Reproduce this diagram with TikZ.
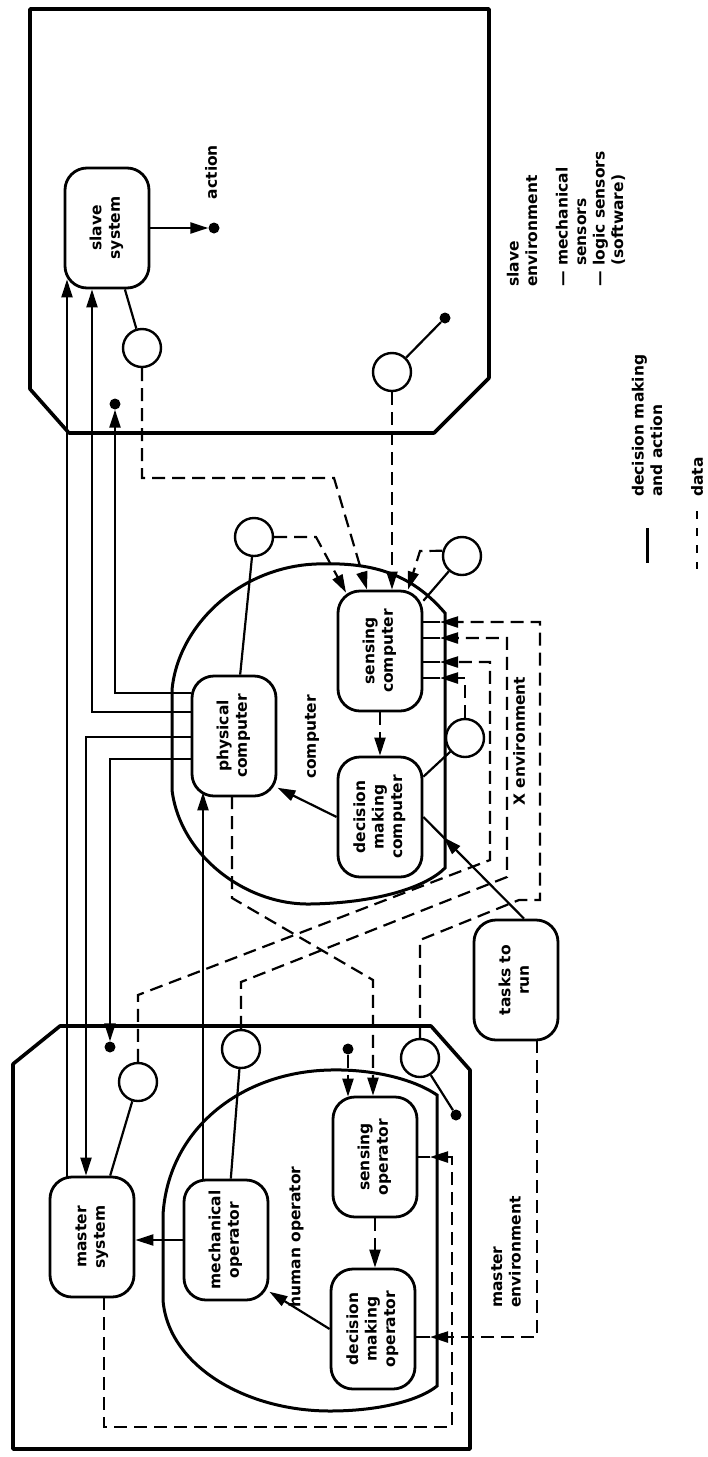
\documentclass[tikz,border=0pt]{standalone}
\usepackage{fontspec}
\setmainfont{DejaVu Sans}
\usetikzlibrary{arrows.meta,calc,decorations.markings,backgrounds}

\newcommand{\vtext}[1]{\rotatebox{90}{\begin{tabular}{@{}c@{}}#1\end{tabular}}}

\tikzset{
  unit/.style={draw, fill=white, line width=2.8pt, rectangle, rounded corners=22pt,
    minimum width=84pt, minimum height=120pt, inner sep=0pt},
  sensor/.style={draw, fill=white, circle, line width=2.4pt, minimum size=38pt, inner sep=0pt},
  dot/.style={circle, fill, minimum size=11pt, inner sep=0pt},
  act/.style={line width=2.2pt},
  data/.style={line width=2.2pt, dash pattern=on 13pt off 7pt},
  arr/.style={-{Triangle[length=18pt,width=11pt]}},
  midarr/.style={postaction=decorate, decoration={markings,
    mark=at position #1 with {\arrow{Triangle[length=18pt,width=11pt]}}}},
  bound/.style={line width=3pt},
  env/.style={line width=3.6pt, line join=round},
  lbl/.style={rotate=90, align=center, inner sep=0pt},
}

\begin{document}
\begin{tikzpicture}[x=1pt, y=-1pt, font=\fontsize{15.5}{18.5}\selectfont\bfseries]
  \useasboundingbox (0,0) rectangle (708,1457);

  % units
  \node[unit] (ss)    at (107, 228) {\vtext{slave\\system}};
  \node[unit] (pc)    at (234, 736) {\vtext{physical\\computer}};
  \node[unit] (sc)    at (380, 651) {\vtext{sensing\\computer}};
  \node[unit] (dmc)   at (380, 817) {\vtext{decision\\making\\computer}};
  \node[unit] (ms)    at ( 92,1237) {\vtext{master\\system}};
  \node[unit] (mo)    at (226,1240) {\vtext{mechanical\\operator}};
  \node[unit] (so)    at (375,1157) {\vtext{sensing\\operator}};
  \node[unit] (dmo)   at (373,1329) {\vtext{decision\\making\\operator}};
  \node[unit] (tasks) at (516, 980) {\vtext{tasks to\\run}};

  % sensors
  \node[sensor] (css) at (142, 348) {};
  \node[sensor] (cse) at (392, 372) {};
  \node[sensor] (cpc) at (254, 537) {};
  \node[sensor] (csc) at (462, 556) {};
  \node[sensor] (cdm) at (465, 738) {};
  \node[sensor] (cml) at (138,1082) {};
  \node[sensor] (cmo) at (241,1049) {};
  \node[sensor] (cmr) at (420,1058) {};

  % end points
  \node[dot] (dact) at (214, 228) {};
  \node[dot] (dse)  at (445, 318) {};
  \node[dot] (dss)  at (115, 404) {};
  \node[dot] (dms)  at (110,1047) {};
  \node[dot] (dso)  at (348,1049) {};
  \node[dot] (dmr)  at (456,1115) {};

  % labels
  \node[lbl] (lact)  at (211, 172) {action};
  \node[lbl] (lcomp) at (312, 737) {computer};
  \node[lbl] (lx)    at (519, 741) {X environment};
  \node[lbl] (lhum)  at (296,1237) {human operator};
  \node[lbl, align=left, anchor=west] (lmenv) at (506,1308) {master\\environment};
  \node[lbl, align=left, anchor=west] (lsenv) at (566, 287)
    {slave\\environment\\[12pt]— mechanical\\\phantom{— }sensors\\— logic sensors\\\phantom{— }(software)};
  \node[lbl, align=left, anchor=west] (ldec)  at (647, 497) {decision making\\and action};
  \node[lbl, anchor=west] (ldata) at (697, 497) {data};

  \begin{scope}[on background layer]
    \fill[white] (0,0) rectangle (708,1457);
    % environments
    \draw[env] (30,9) -- (489,9) -- (489,378) -- (434,433) -- (69,433) -- (30,389) -- cycle;
    \draw[env] (60,1026) -- (431,1026) -- (470,1070) -- (470,1449) -- (13,1449) -- (13,1064) -- cycle;
    \draw[bound] (445,613) .. controls (410,572) and (370,562) .. (316,564)
      .. controls (240,567) and (178,625) .. (172,690) -- (172,790)
      .. controls (180,855) and (245,905) .. (310,904)
      .. controls (375,903) and (425,888) .. (445,868) -- cycle;
    \draw[bound] (437,1095) .. controls (412,1078) and (370,1069) .. (330,1070)
      .. controls (240,1072) and (168,1130) .. (163,1215) -- (163,1300)
      .. controls (168,1365) and (245,1411) .. (330,1411)
      .. controls (380,1411) and (420,1400) .. (437,1386) -- cycle;

    % decision making and action
    \draw[act,arr] (ss.east) -- (dact);
    \draw[act,arr] ($(ms.north)+(-25,10)$) -- ($(ss.south)+(-40,-10)$);
    \draw[act,arr] (pc.west |- 0,712) -| (92,0 |- ss.south);
    \draw[act,arr] (pc.west |- 0,693) -| (dss);
    \draw[act,arr] (pc.west |- 0,737) -| (86,0 |- ms.north);
    \draw[act,arr] (pc.west |- 0,759) -| (dms);
    \draw[act,arr] (203,0 |- mo.center) -- ($(203,0 |- pc.south)+(0,-5)$);
    \draw[act,arr] (dmc.west) -- (pc.-50);
    \draw[act,arr] (dmo.west) -- (mo.-50);
    \draw[act,arr] (mo.west) -- (mo.west -| ms.east);
    \draw[act,midarr=0.8] ($(tasks.north)+(8,0)$) -- (dmc.east);
    \draw[act] (css) -- (ss);
    \draw[act] (cse) -- (dse);
    \draw[act] (cpc) -- (pc);
    \draw[act] (csc) -- (sc);
    \draw[act] (cdm) -- (dmc);
    \draw[act] (cml) -- (ms);
    \draw[act] (cmo) -- (mo);
    \draw[act] (cmr) -- (dmr);
    \foreach \y in {622,638,662,678}
      \draw[act] (sc.east |- 0,\y) -- (440,\y);
    \draw[act] (so.east) -- (430,1157);
    \draw[act] (dmo.east |- 0,1337) -- (430,1337);

    % data
    \draw[data,arr] (cpc.east) -- (316,537) -- ($(346,0 |- sc.north)+(0,3)$);
    \draw[data,arr] (css.south) |- (334,478) -- (367,0 |- sc.north);
    \draw[data,arr] (cse.south) -- (cse.south |- sc.north);
    \draw[data,arr] (csc.165) -- (420,551) -- (408,0 |- sc.north);
    \draw[data,arr] (cmr.north) -- (cmr.north |- 0,940) -- (519,900) -- (540,900) |- (440,622);
    \draw[data,arr] (cmo.north) -- (cmo.north |- 0,982) -- (507,877) |- (440,638);
    \draw[data,arr] (cml.north) -- (cml.north |- 0,995) -- (490,860) |- (440,662);
    \draw[data,arr] (cdm.north) |- (440,678);
    \draw[data,arr] (sc.south) -- (sc.south |- dmc.north);
    \draw[data,arr] (232,0 |- pc.center) -- (232,898) -- (373,980) -- (373,0 |- so.north);
    \draw[data,arr] (dso) -- ($(dso |- so.north)+(0,1)$);
    \draw[data,arr] (so.south) -- (so.south |- dmo.north);
    \draw[data,arr] (104,0 |- ms.center) -- (104,1427) -| (452,1157) -- (430,1157);
    \draw[data,arr] (537,0 |- tasks.center) -- (537,1337) -- (430,1337);

    % legend samples
    \draw[line width=3pt] ($(ldec.west)+(0,31)$) -- ++(0,35);
    \draw[line width=2.4pt, dash pattern=on 8pt off 9pt] ($(ldata.west)+(0,14)$) -- ++(0,58);
  \end{scope}
\end{tikzpicture}
\end{document}
